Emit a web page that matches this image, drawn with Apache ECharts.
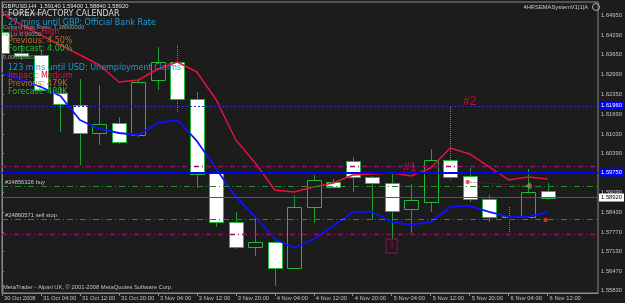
<!DOCTYPE html>
<html>
<head>
<meta charset="utf-8">
<title>GBPUSD,H4</title>
<script src="https://cdn.jsdelivr.net/npm/echarts@6/dist/echarts.min.js"></script>
<style>
html, body { margin: 0; padding: 0; background: #1c1c1c; }
#chart { width: 625px; height: 303px; }
</style>
</head>
<body>
<div id="chart"></div>
<script>
// H4 bars, 30 Oct 20:00 .. 6 Nov 12:00
var times = ['30 Oct 20:00', '31 Oct 00:00', '31 Oct 04:00', '31 Oct 08:00', '31 Oct 12:00', '31 Oct 16:00', '31 Oct 20:00',
    '3 Nov 00:00', '3 Nov 04:00', '3 Nov 08:00', '3 Nov 12:00', '3 Nov 16:00', '3 Nov 20:00',
    '4 Nov 00:00', '4 Nov 04:00', '4 Nov 08:00', '4 Nov 12:00', '4 Nov 16:00', '4 Nov 20:00',
    '5 Nov 00:00', '5 Nov 04:00', '5 Nov 08:00', '5 Nov 12:00', '5 Nov 16:00', '5 Nov 20:00',
    '6 Nov 00:00', '6 Nov 04:00', '6 Nov 08:00', '6 Nov 12:00'];
var firstLabel = '30 Oct 2008';

var opens = [1.64410, 1.63713, 1.63647, 1.62387, 1.61989, 1.61060, 1.61392, 1.60994, 1.62818, 1.63415, 1.62188, 1.59734, 1.58109, 1.57280, 1.57446,
    1.56584, 1.58607, 1.59436, 1.60132, 1.59601, 1.59402, 1.58540, 1.58772, 1.60165, 1.59635, 1.58872, 1.58275, 1.58275, 1.59140];
var closes = [1.63713, 1.63614, 1.62486, 1.62022, 1.61060, 1.61359, 1.60762, 1.62751, 1.63415, 1.62188, 1.59701, 1.58109, 1.57280, 1.57446, 1.56584,
    1.58607, 1.59502, 1.59270, 1.59601, 1.59402, 1.58474, 1.58839, 1.60165, 1.59601, 1.58872, 1.58275, 1.58308, 1.59104, 1.58920];
var lows = [1.63614, 1.63481, 1.62420, 1.61094, 1.59999, 1.60662, 1.60696, 1.60928, 1.62486, 1.61724, 1.59237, 1.57943, 1.57214, 1.56982, 1.55987,
    1.56551, 1.58076, 1.59237, 1.59104, 1.58175, 1.57512, 1.57744, 1.58441, 1.59502, 1.58772, 1.58109, 1.57778, 1.58242, 1.58840];
var highs = [1.64642, 1.63978, 1.63813, 1.62553, 1.62851, 1.62652, 1.61591, 1.62818, 1.63912, 1.63978, 1.62420, 1.59767, 1.58441, 1.58275, 1.57479,
    1.59004, 1.59668, 1.59535, 1.60265, 1.59635, 1.59734, 1.59369, 1.60530, 1.61923, 1.59900, 1.59004, 1.58607, 1.59867, 1.59400];
var dottedWick = [9, 23, 26];

// 4HRSEMASystem lines
var redLine = [1.65040, 1.64642, 1.64310, 1.63978, 1.63647, 1.63315, 1.62751, 1.62818, 1.63183, 1.63415, 1.63083, 1.62155, 1.60828, 1.60066, 1.59170,
    1.59104, 1.59270, 1.59402, 1.59668, 1.59701, 1.59734, 1.59635, 1.59900, 1.60563, 1.60364, 1.59933, 1.59502, 1.59601, 1.59535];
var blueLine = [1.63050, 1.62818, 1.62586, 1.62287, 1.61491, 1.61193, 1.61060, 1.60994, 1.61392, 1.61491, 1.60795, 1.59867, 1.58938, 1.58275, 1.57545,
    1.57247, 1.57545, 1.57977, 1.58441, 1.58441, 1.58109, 1.58010, 1.58109, 1.58607, 1.58640, 1.58441, 1.58275, 1.58275, 1.58441];

var priceTicks = [1.64950, 1.64290, 1.63650, 1.62990, 1.62350, 1.61690, 1.61030, 1.60390, 1.59730, 1.59090, 1.58430, 1.57770, 1.57130, 1.56470, 1.55830];

// horizontal levels
var blueDotLevel = 1.61960;
var blueSolidLevel = 1.59750;
var purpleLevels = [1.59956, 1.57701];
var buyLevel = 1.59293;
var sellStopLevel = 1.58199;
var bidLevel = 1.58920;
var buyText = '#24856326 buy';
var sellStopText = '#24860571 sell stop';

// tags and trade arrows
var tagX = [20.94, 24.0];
var tagY = [1.59900, 1.62088];
var tagText = ['#1', '#2'];
var tradeX = [23.9, 26.95];
var tradeY = [1.59436, 1.59303];
var stopDot = [27.9, 1.58175];
var alertBox = [20, 1.57313];

var bg = '#1c1c1c';
var font = 'Liberation Sans';
var calFont = 'DejaVu Sans';

var tickIdx = [];
times.forEach(function (t, i) { if (i % 2 === 0) tickIdx.push(i); });

var candleData = times.map(function (t, i) {
    return [i, opens[i], closes[i], lows[i], highs[i], dottedWick.indexOf(i) >= 0 ? 1 : 0];
});

function renderCandle(params, api) {
    var k = api.value(0);
    var o = api.coord([k, api.value(1)]);
    var c = api.coord([k, api.value(2)]);
    var l = api.coord([k, api.value(3)]);
    var h = api.coord([k, api.value(4)]);
    var w = Math.round(api.size([1, 0])[0] * 0.74);
    var x = Math.round(o[0]) + 0.5;
    var top = Math.round(Math.min(o[1], c[1])) + 0.5;
    var bot = Math.round(Math.max(o[1], c[1])) + 0.5;
    var bear = api.value(2) < api.value(1);
    var dotted = api.value(5) === 1;
    return {
        type: 'group',
        children: [{
            type: 'line',
            shape: { x1: x, y1: Math.round(h[1]), x2: x, y2: Math.round(l[1]) },
            style: { stroke: dotted ? '#6f8c6f' : '#1e9e34', lineWidth: 1, lineDash: dotted ? [1, 1] : null }
        }, {
            type: 'rect',
            shape: { x: Math.round(o[0] - w / 2) + 0.5, y: top, width: w, height: Math.max(bot - top, 1) },
            style: { fill: bear ? '#ffffff' : bg, stroke: '#22b83a', lineWidth: 1 }
        }]
    };
}

function priceFmt(p) { return Number(p.value).toFixed(5); }

var boxLabel = function (bgc, fg) {
    return {
        show: true, position: 'end', distance: 1, formatter: priceFmt,
        backgroundColor: bgc, color: fg, fontSize: 5.8, fontFamily: font, padding: [1, 2, 1, 2]
    };
};

var lvlData = [
    { yAxis: blueDotLevel, lineStyle: { color: '#2828d8', type: [2, 2], width: 1 }, label: boxLabel('#0000ff', '#ffffff') },
    { yAxis: purpleLevels[0], lineStyle: { color: '#8c1466', type: [5, 3, 1, 3], width: 1.3 } },
    { yAxis: buyLevel, lineStyle: { color: '#2a8a2a', type: [6, 3, 1, 3], width: 1.2 },
        label: { show: true, position: 'insideStartTop', distance: [3, 1], formatter: buyText, color: '#c8c8c8', fontSize: 5.8, fontFamily: font } },
    { yAxis: bidLevel, lineStyle: { color: '#555555', type: 'solid', width: 1 }, label: boxLabel('#ffffff', '#000000') },
    { yAxis: sellStopLevel, lineStyle: { color: '#2a8a2a', type: [6, 3, 1, 3], width: 1.2 },
        label: { show: true, position: 'insideStartTop', distance: [3, 1], formatter: sellStopText, color: '#c8c8c8', fontSize: 5.8, fontFamily: font } },
    { yAxis: purpleLevels[1], lineStyle: { color: '#8c1466', type: [5, 3, 1, 3], width: 1.3 } },
    { yAxis: blueSolidLevel, lineStyle: { color: '#0000ff', type: 'solid', width: 2 }, label: boxLabel('#0000ff', '#ffffff') }
];

function txt(x, y, s, color, size, fam, align) {
    return {
        type: 'text', x: x, y: y, z: 100,
        style: { text: s, fill: color, fontSize: size, fontFamily: fam || font,
            align: align || 'left', textAlign: align || 'left', verticalAlign: 'middle', textVerticalAlign: 'middle' }
    };
}

var cyan = '#1e9ad6', red = '#e01040', brown = '#b5702c', green = '#2db82d';

var chart = echarts.init(document.getElementById('chart'));
chart.setOption({
    backgroundColor: bg,
    animation: false,
    grid: { left: 2, right: 22, top: 2, bottom: 10, show: true, borderColor: '#8a8a8a', borderWidth: 1 },
    xAxis: {
        type: 'value', min: 0, max: 30.59, interval: 2,
        axisLine: { show: true, lineStyle: { color: '#8a8a8a' } },
        axisTick: { show: true, length: 3, customValues: tickIdx, lineStyle: { color: '#8a8a8a' } },
        axisLabel: {
            customValues: tickIdx, color: '#c0c0c0', fontSize: 5.8, fontFamily: font, align: 'left', margin: 2,
            padding: [0, 0, 0, 2],
            formatter: function (v) { return v === 0 ? firstLabel : (times[v] || ''); }
        },
        splitLine: { show: false }
    },
    yAxis: {
        type: 'value', position: 'right', min: 1.55754, max: 1.65404,
        axisLine: { show: true, lineStyle: { color: '#8a8a8a' } },
        axisTick: { show: true, length: 2, customValues: priceTicks, lineStyle: { color: '#8a8a8a' } },
        axisLabel: {
            customValues: priceTicks, color: '#c0c0c0', fontSize: 5.8, fontFamily: font, margin: 3,
            formatter: function (v) { return v.toFixed(5); }
        },
        splitLine: { show: false }
    },
    series: [{
        type: 'custom', name: 'GBPUSD,H4', z: 2, clip: true,
        renderItem: renderCandle,
        encode: { x: 0, y: [1, 2, 3, 4] },
        data: candleData
    }, {
        type: 'line', name: 'upper', z: 4, showSymbol: false, symbol: 'none',
        lineStyle: { color: '#e8103c', width: 1.5 },
        data: redLine.map(function (v, i) { return [i, v]; }),
        markLine: { silent: true, symbol: 'none', precision: 5, label: { show: false }, data: lvlData }
    }, {
        type: 'line', name: 'lower', z: 4, showSymbol: false, symbol: 'none',
        lineStyle: { color: '#1010ff', width: 1.8 },
        data: blueLine.map(function (v, i) { return [i, v]; })
    }, {
        type: 'line', name: 'trade', z: 5, symbol: 'none',
        lineStyle: { color: '#b02020', type: [1, 2], width: 1 },
        data: tradeX.map(function (x, i) { return [x, tradeY[i]]; })
    }, {
        type: 'scatter', name: 'dots', z: 6, symbol: 'circle', symbolSize: 4.5,
        itemStyle: { color: '#e23a3a' },
        data: [[tradeX[0], tradeY[0]], [tradeX[1] + 0.15, tradeY[1]], stopDot]
    }, {
        type: 'scatter', name: 'close', z: 7, symbol: 'arrow', symbolSize: [6, 6], symbolRotate: 90,
        itemStyle: { color: '#6f9a6f' },
        data: [[tradeX[1] - 0.1, tradeY[1]]]
    }, {
        type: 'scatter', name: 'alert', z: 6, symbol: 'rect', symbolSize: [11, 14],
        itemStyle: { color: '#2a1020', borderColor: '#7a1848', borderWidth: 1.5 },
        label: { show: true, position: 'inside', formatter: '\u21e7', color: '#9a2060', fontSize: 9, fontFamily: calFont },
        data: [alertBox]
    }, {
        type: 'scatter', name: 'tags', z: 8, symbolSize: 0,
        label: {
            show: true, position: 'inside', color: '#e0103a', fontSize: 12, fontFamily: font,
            formatter: function (p) { return tagText[p.dataIndex]; }
        },
        data: tagX.map(function (x, i) { return [x, tagY[i]]; })
    }],
    graphic: [
        txt(3, 6, 'GBPUSD,H4  1.59140 1.59400 1.58840 1.58920', '#e0e0e0', 5.8),
        txt(3, 13, 'Current Spread', '#9a9a9a', 5.8),
        txt(3, 27, 'Current Risk Ratio: 7.38000000', '#9a9a9a', 5.8),
        txt(3, 34, 'Hi-Lo: 0.00050', '#9a9a9a', 5.8),
        txt(3, 57, '0.00000000', '#9a9a9a', 5.8),
        txt(8, 14, 'FOREX FACTORY CALENDAR', '#d8d8d8', 8, calFont),
        txt(8, 23, '27 mins until GBP: Official Bank Rate', cyan, 8, calFont),
        txt(8, 32, 'Impact: High', red, 8, calFont),
        txt(8, 40.5, 'Previous: 4.50%', brown, 8, calFont),
        txt(8, 49, 'Forecast: 4.00%', green, 8, calFont),
        txt(8, 67.5, '123 mins until USD: Unemployment Claims', cyan, 8, calFont),
        txt(8, 76, 'Impact: Medium', red, 8, calFont),
        txt(8, 84, 'Previous: 479K', brown, 8, calFont),
        txt(8, 92, 'Forecast: 480K', green, 8, calFont),
        txt(588, 7, '4HRSEMASystemV1|1|A', '#c8c8c8', 5.8, font, 'right'),
        { type: 'circle', z: 100, shape: { cx: 596, cy: 7, r: 3.5 }, style: { fill: 'none', stroke: '#b0b0b0', lineWidth: 1 } },
        txt(3, 287, 'MetaTrader - Alpari UK, \u00a9 2001-2008 MetaQuotes Software Corp.', '#c0c0c0', 5.8)
    ]
});
</script>
</body>
</html>
